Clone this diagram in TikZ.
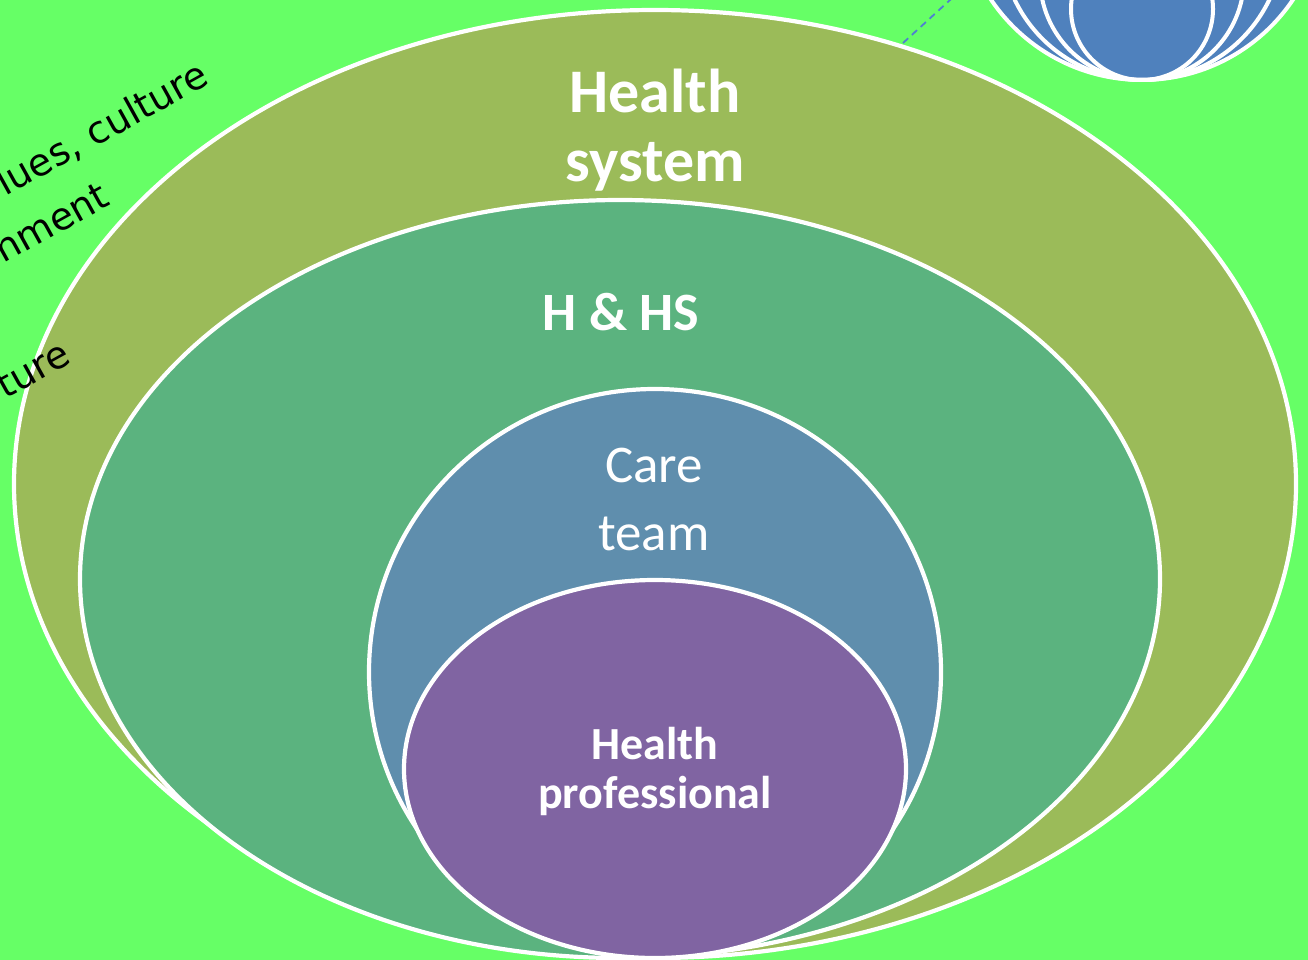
\documentclass[tikz,border=0pt]{standalone}
\usepackage{fontspec}
\setmainfont{Carlito}
\newfontfamily\dejavu{DejaVu Sans}
\definecolor{bgc}{HTML}{66FF66}
\definecolor{hsc}{HTML}{9BBB59}
\definecolor{hhsc}{HTML}{5BB37F}
\definecolor{carec}{HTML}{5F8EAD}
\definecolor{profc}{HTML}{8064A2}
\definecolor{globec}{HTML}{4F81BD}
\definecolor{dashc}{HTML}{4F7FD0}
\begin{document}
\begin{tikzpicture}[x=1pt,y=-1pt,
  ring/.style={draw=white, line width=4.2pt},
  globering/.style={draw=white, line width=4pt},
  lbl/.style={text=white, inner sep=0pt, anchor=base},
  bigbold/.style={lbl, font=\bfseries\fontsize{62}{68}\selectfont},
  midbold/.style={lbl, font=\bfseries\fontsize{54}{60}\selectfont},
  careft/.style={lbl, font=\fontsize{53}{60}\selectfont},
  smallbold/.style={lbl, font=\bfseries\fontsize{46}{50}\selectfont},
  outtxt/.style={font=\dejavu\fontsize{38}{42}\selectfont, text=black, anchor=base east, rotate=29, inner sep=0pt},
  leader/.style={draw=dashc, line width=1.8pt, dash pattern=on 7pt off 5pt}]
\useasboundingbox (0,0) rectangle (1308,960);
\fill[bgc] (0,0) rectangle (1308,960);
\begin{scope}
\clip (0,0) rectangle (1308,960);
% globe
\fill[globec] (1142,-102) circle (182);
\draw[globering] (1142,-102) circle (182);
\draw[globering] (1142,-61) circle (141);
\draw[globering] (1142,-22) circle (102);
\draw[globering] (1142,9) circle (71);
% leader line
\coordinate (d1) at (903,43);
\coordinate (d2) at (962,-11);
\draw[leader] (d1) -- (d2);
% ellipses
\draw[ring, fill=hsc] (655,484) ellipse (641 and 474);
\draw[ring, fill=hhsc] (620,579) ellipse (540 and 379);
\draw[ring, fill=carec] (655,672) ellipse (286 and 283);
\draw[ring, fill=profc] (655,769) ellipse (251 and 189);
% outside texts (cut by the left edge)
\node[outtxt] (t1) at (211,83) {lues, culture};
\node[outtxt] (t2) at (112,204) {nment};
\node[outtxt] (t3) at (73,362) {ture};
\end{scope}
% labels
\node[bigbold] (hs1) at (655,113) {Health};
\node[bigbold] (hs2) at (655,182) {system};
\node[midbold] (hhs) at (621,330) {H \& HS};
\node[careft] (ct1) at (654,482) {Care};
\node[careft] (ct2) at (654,550) {team};
\node[smallbold] (hp1) at (655,759) {Health};
\node[smallbold] (hp2) at (655,808) {professional};
\end{tikzpicture}
\end{document}
